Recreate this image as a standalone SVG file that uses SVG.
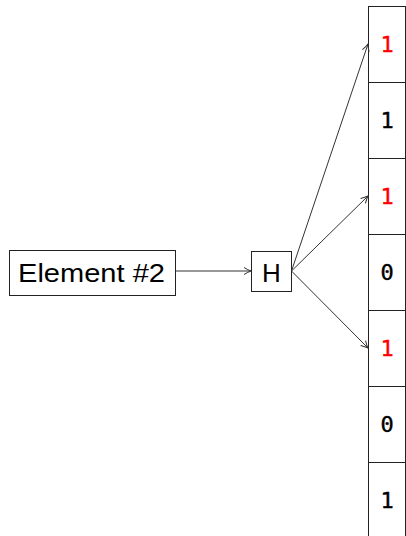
<svg xmlns="http://www.w3.org/2000/svg" width="406" height="536" viewBox="0 0 406 536">
<style>
.box{fill:#fff;stroke:#222;stroke-width:1}
.lbl{font-family:"Liberation Sans","DejaVu Sans",sans-serif;font-size:26px;fill:#000}
.d{font-family:"DejaVu Sans Mono","Liberation Mono",monospace;font-size:22px;text-anchor:middle;fill:#000;stroke:#000;stroke-width:0.4}
.r{fill:#ff0000;stroke:#ff0000}
.c{stroke:#333;stroke-width:1;fill:none;marker-end:url(#a)}
</style>
<defs>
<marker id="a" viewBox="0 0 10 10" refX="9" refY="5" markerWidth="10" markerHeight="10" markerUnits="userSpaceOnUse" orient="auto">
<path d="M2,1.5 Q6,4 9,5 Q6,6 2,8.5" fill="none" stroke="#333" stroke-width="1"/>
</marker>
</defs>
<g id="element">
<rect class="box" x="9.5" y="250.5" width="166" height="45"/>
<text class="lbl" x="18" y="282" textLength="147" lengthAdjust="spacingAndGlyphs">Element #2</text>
</g>
<g id="hash">
<rect class="box" x="251.5" y="251.5" width="40" height="40"/>
<text class="lbl" x="271.5" y="282" text-anchor="middle">H</text>
</g>
<g id="array">
<rect class="box" x="368.5" y="6.5" width="37" height="76"/>
<rect class="box" x="368.5" y="82.5" width="37" height="76"/>
<rect class="box" x="368.5" y="158.5" width="37" height="76"/>
<rect class="box" x="368.5" y="234.5" width="37" height="76"/>
<rect class="box" x="368.5" y="310.5" width="37" height="76"/>
<rect class="box" x="368.5" y="386.5" width="37" height="76"/>
<rect class="box" x="368.5" y="462.5" width="37" height="76"/>
<text class="d r" x="387" y="52">1</text>
<text class="d" x="387" y="128">1</text>
<text class="d r" x="387" y="204">1</text>
<text class="d" x="387" y="280">0</text>
<text class="d r" x="387" y="356">1</text>
<text class="d" x="387" y="432">0</text>
<text class="d" x="387" y="508">1</text>
</g>
<g id="connectors">
<line class="c" x1="175.5" y1="271" x2="251" y2="271"/>
<line class="c" x1="291.5" y1="271" x2="368" y2="44"/>
<line class="c" x1="291.5" y1="271" x2="368" y2="196"/>
<line class="c" x1="291.5" y1="271" x2="368" y2="348"/>
</g>
</svg>
